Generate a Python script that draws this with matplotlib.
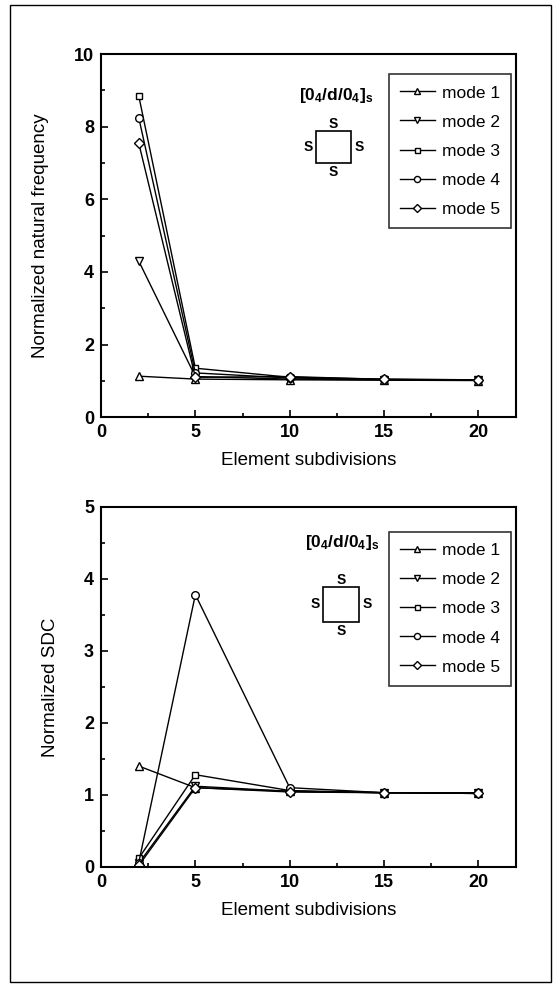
import numpy as np
import matplotlib
matplotlib.use('Agg')
import matplotlib.pyplot as plt
from matplotlib.patches import Rectangle
from matplotlib.ticker import MultipleLocator

plt.rcParams['font.family'] = ['Liberation Sans', 'DejaVu Sans']
plt.rcParams['mathtext.fontset'] = 'custom'
plt.rcParams['mathtext.rm'] = 'Liberation Sans'
plt.rcParams['mathtext.bf'] = 'Liberation Sans:bold'

# data
subdivisions = [2, 5, 10, 15, 20]
mode_labels = ['mode 1', 'mode 2', 'mode 3', 'mode 4', 'mode 5']
freq = [
    [1.13, 1.05, 1.03, 1.02, 1.01],
    [4.30, 1.12, 1.05, 1.03, 1.02],
    [8.85, 1.35, 1.10, 1.05, 1.03],
    [8.25, 1.22, 1.08, 1.04, 1.02],
    [7.55, 1.10, 1.12, 1.04, 1.03],
]
sdc = [
    [1.40, 1.10, 1.05, 1.03, 1.03],
    [0.05, 1.12, 1.05, 1.03, 1.02],
    [0.12, 1.28, 1.06, 1.03, 1.03],
    [0.06, 3.78, 1.10, 1.03, 1.02],
    [0.02, 1.10, 1.04, 1.03, 1.02],
]
markers = ['^', 'v', 's', 'o', 'D']
msizes = [5.5, 5.5, 4.5, 5.5, 5]

fig = plt.figure(figsize=(5.55, 9.84), dpi=100)
fig.patches.append(Rectangle((0.018, 0.002), 0.975, 0.993, transform=fig.transFigure,
                             fill=False, edgecolor='black', linewidth=1.0))

ax1 = fig.add_axes([0.182, 0.576, 0.748, 0.369])
ax2 = fig.add_axes([0.182, 0.119, 0.748, 0.366])

def draw(ax, data, ylim, ymaj, ymin, ylabel, leg_top, note_xy, sq):
    for vals, m, ms, lab in zip(data, markers, msizes, mode_labels):
        ax.plot(subdivisions, vals, color='black', lw=1.0, marker=m, ms=ms,
                mfc='white', mec='black', mew=1.0, label=lab)
    ax.set_xlim(0, 22)
    ax.set_ylim(*ylim)
    ax.xaxis.set_major_locator(MultipleLocator(5))
    ax.xaxis.set_minor_locator(MultipleLocator(2.5))
    ax.yaxis.set_major_locator(MultipleLocator(ymaj))
    ax.yaxis.set_minor_locator(MultipleLocator(ymin))
    ax.tick_params(which='both', direction='in', top=False, right=False, width=1.2)
    ax.tick_params(which='major', length=5, labelsize=13, pad=5)
    ax.tick_params(which='minor', length=3)
    for lbl in ax.get_xticklabels() + ax.get_yticklabels():
        lbl.set_fontweight('bold')
    for s in ax.spines.values():
        s.set_linewidth(1.5)
    ax.set_xlabel('Element subdivisions', fontsize=13.5, labelpad=8)
    ax.set_ylabel(ylabel, fontsize=13.5, labelpad=18)
    leg = ax.legend(loc='upper right', bbox_to_anchor=(0.988, leg_top), fontsize=12.5,
                    frameon=True, fancybox=False, edgecolor='black', handlelength=2.0,
                    labelspacing=0.8, borderpad=0.65, handletextpad=0.4,
                    borderaxespad=0, markerscale=0.8)
    leg.get_frame().set_linewidth(1.2)
    ax.text(note_xy[0], note_xy[1], r'$\mathbf{[0_4/d/0_4]_s}$', transform=ax.transAxes,
            ha='center', va='center', fontsize=12.5)
    x0, y0, w, h = sq
    ax.add_patch(Rectangle((x0, y0), w, h, transform=ax.transAxes, fill=False,
                           edgecolor='black', lw=1.2))
    kw = dict(transform=ax.transAxes, ha='center', va='center', fontsize=10, fontweight='bold')
    ax.text(x0 + w / 2, y0 + h + 0.02, 'S', **kw)
    ax.text(x0 + w / 2, y0 - 0.025, 'S', **kw)
    ax.text(x0 - 0.018, y0 + h / 2, 'S', **kw)
    ax.text(x0 + w + 0.02, y0 + h / 2, 'S', **kw)

draw(ax1, freq, (0, 10), 2, 1, 'Normalized natural frequency', 0.945,
     (0.567, 0.887), (0.518, 0.700, 0.084, 0.088))
draw(ax2, sdc, (0, 5), 1, 0.5, 'Normalized SDC', 0.93,
     (0.58, 0.90), (0.535, 0.680, 0.087, 0.098))

fig.savefig('out.png', dpi=100)
